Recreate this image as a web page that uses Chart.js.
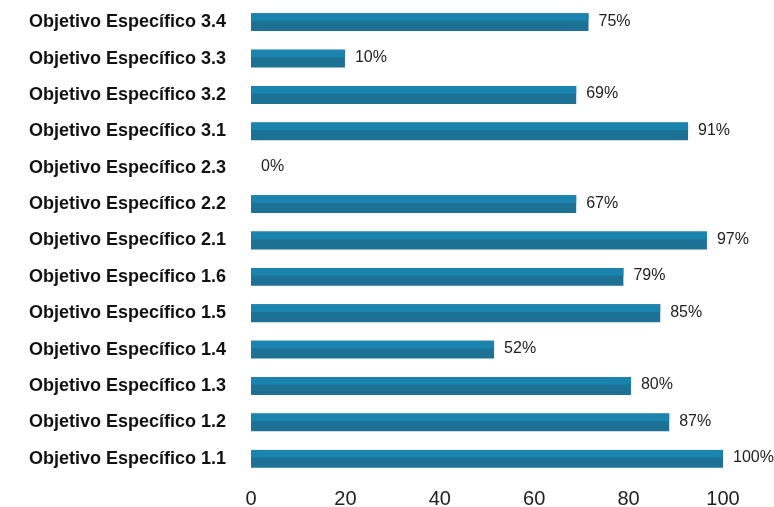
<!DOCTYPE html>
<html>
<head>
<meta charset="utf-8">
<script src="https://cdn.jsdelivr.net/npm/chart.js@4/dist/chart.umd.min.js"></script>
<style>
  html, body { margin: 0; padding: 0; background: #fff; }
  #wrap { width: 774px; height: 507px; }
</style>
</head>
<body>
<div id="wrap"><canvas id="chart"></canvas></div>
<script>
const objetivos = [
    'Objetivo Específico 1.1', 'Objetivo Específico 1.2', 'Objetivo Específico 1.3',
    'Objetivo Específico 1.4', 'Objetivo Específico 1.5', 'Objetivo Específico 1.6',
    'Objetivo Específico 2.1', 'Objetivo Específico 2.2', 'Objetivo Específico 2.3',
    'Objetivo Específico 3.1', 'Objetivo Específico 3.2', 'Objetivo Específico 3.3',
    'Objetivo Específico 3.4'
];
// lengte van de balken zoals getekend
const balken = [100, 88.6, 80.5, 51.5, 86.7, 78.9, 96.6, 68.9, 0, 92.6, 68.9, 19.9, 71.5];
// tekst naast de balken
const percentages = ['100%', '87%', '80%', '52%', '85%', '79%', '97%', '67%', '0%', '91%', '69%', '10%', '75%'];
const xTicks = [0, 20, 40, 60, 80, 100];

const fontFamily = '"Liberation Sans", Arial, sans-serif';

// lichtere bovenkant van elke balk + de percentages ernaast
const barExtras = {
    id: 'barExtras',
    afterDatasetsDraw(chart) {
        const ctx = chart.ctx;
        const meta = chart.getDatasetMeta(0);
        ctx.save();
        meta.data.forEach((bar, i) => {
            const top = bar.y - bar.height / 2;
            const w = bar.x - bar.base;
            if (w > 0) {
                ctx.fillStyle = '#1a84af';
                ctx.fillRect(bar.base, top, w, bar.height * 0.43);
            }
            ctx.fillStyle = '#222';
            ctx.font = '16px ' + fontFamily;
            ctx.textBaseline = 'middle';
            ctx.textAlign = 'left';
            ctx.fillText(percentages[i], bar.x + 10, bar.y - 1);
        });
        ctx.restore();
    }
};

new Chart(document.getElementById('chart'), {
    type: 'bar',
    data: {
        labels: objetivos,
        datasets: [{
            data: balken,
            backgroundColor: '#1c7194',
            borderWidth: 0,
            categoryPercentage: 1,
            barPercentage: 0.49
        }]
    },
    options: {
        indexAxis: 'y',
        responsive: true,
        maintainAspectRatio: false,
        animation: false,
        layout: { padding: { top: 4, right: 51, bottom: 0, left: 0 } },
        plugins: {
            legend: { display: false },
            tooltip: { enabled: false }
        },
        scales: {
            x: {
                min: 0,
                max: 100,
                afterBuildTicks: scale => { scale.ticks = xTicks.map(v => ({ value: v })); },
                afterFit: scale => { scale.height = 30; },
                grid: { display: false, drawTicks: false },
                border: { display: false },
                ticks: {
                    padding: 10,
                    color: '#222',
                    font: { family: fontFamily, size: 20 }
                }
            },
            y: {
                reverse: true,
                afterFit: scale => {
                    scale.width = 251;
                    scale.paddingTop = 0;
                    scale.paddingBottom = 0;
                },
                grid: { display: false, drawTicks: false },
                border: { display: false },
                ticks: {
                    padding: 25,
                    color: '#111',
                    font: { family: fontFamily, size: 18, weight: 'bold' }
                }
            }
        }
    },
    plugins: [barExtras]
});
</script>
</body>
</html>
